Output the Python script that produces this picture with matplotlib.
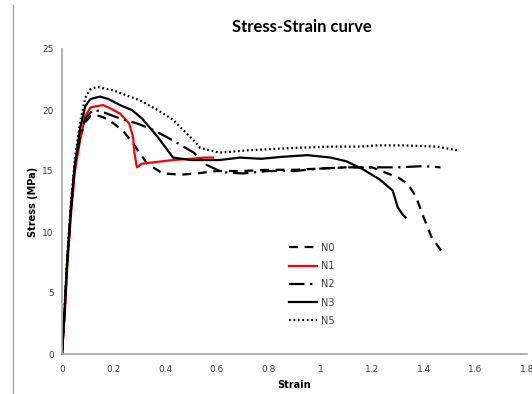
import numpy as np
import matplotlib
matplotlib.use("Agg")
import matplotlib.pyplot as plt
from matplotlib.lines import Line2D

# ----- datos -----
n0_strain = [0, 0.01, 0.02, 0.035, 0.05, 0.07, 0.09, 0.11, 0.13, 0.16, 0.2, 0.24, 0.28, 0.33,
             0.39, 0.46, 0.52, 0.6, 0.7, 0.8, 0.9, 1.0, 1.1, 1.2, 1.26, 1.3, 1.34, 1.37, 1.40,
             1.43, 1.47]
n0_stress = [0, 3.5, 7.5, 12, 15.5, 17.8, 19.0, 19.5, 19.6, 19.4, 18.9, 18.2, 17.1, 15.6,
             14.8, 14.7, 14.8, 15.0, 15.0, 15.1, 15.1, 15.2, 15.3, 15.3, 14.8, 14.5, 13.9,
             12.9, 11.2, 9.6, 8.4]

n1_strain = [0, 0.01, 0.02, 0.035, 0.05, 0.07, 0.09, 0.11, 0.13, 0.16, 0.19, 0.225, 0.26,
             0.275, 0.28, 0.29, 0.31, 0.35, 0.43, 0.5, 0.55, 0.585]
n1_stress = [0, 3, 7, 11.5, 15, 17.5, 19.5, 20.2, 20.3, 20.4, 20.1, 19.7, 18.9, 17.8, 16.5,
             15.3, 15.6, 15.7, 15.9, 16.0, 16.1, 16.1]

n2_strain = [0, 0.01, 0.02, 0.035, 0.05, 0.07, 0.09, 0.12, 0.15, 0.2, 0.24, 0.29, 0.35, 0.43,
             0.51, 0.56, 0.62, 0.7, 0.8, 0.9, 1.0, 1.1, 1.2, 1.3, 1.4, 1.465]
n2_stress = [0, 3.5, 7.5, 12, 15.5, 17.8, 19.3, 20.0, 19.9, 19.5, 19.2, 18.9, 18.4, 17.5,
             16.5, 15.5, 14.9, 14.8, 15.0, 15.0, 15.2, 15.3, 15.3, 15.3, 15.4, 15.3]

n3_strain = [0, 0.01, 0.02, 0.035, 0.05, 0.07, 0.09, 0.11, 0.147, 0.18, 0.225, 0.27, 0.31,
             0.37, 0.43, 0.50, 0.61, 0.69, 0.77, 0.845, 0.95, 1.04, 1.1, 1.16, 1.23, 1.28,
             1.30, 1.32, 1.33]
n3_stress = [0, 3.5, 7.5, 12, 15.5, 18.5, 20.3, 20.9, 21.1, 20.9, 20.4, 20.0, 19.3, 17.8,
             16.1, 15.9, 15.9, 16.1, 16.0, 16.15, 16.3, 16.1, 15.8, 15.2, 14.3, 13.4, 12.0,
             11.4, 11.2]

n5_strain = [0, 0.01, 0.02, 0.035, 0.05, 0.07, 0.09, 0.11, 0.135, 0.2, 0.3, 0.37, 0.43, 0.51,
             0.535, 0.61, 0.72, 0.81, 0.91, 1.04, 1.155, 1.22, 1.32, 1.45, 1.53]
n5_stress = [0, 3.8, 8, 12.5, 16, 19, 21.0, 21.7, 21.9, 21.6, 20.8, 20.0, 19.2, 17.5, 16.9,
             16.5, 16.7, 16.8, 16.9, 17.0, 17.0, 17.1, 17.1, 17.0, 16.7]

x_ticks = [0, 0.2, 0.4, 0.6, 0.8, 1, 1.2, 1.4, 1.6, 1.8]
x_labels = ["0", "0.2", "0.4", "0.6", "0.8", "1", "1.2", "1.4", "1.6", "1.8"]
y_ticks = [0, 5, 10, 15, 20, 25]

# ----- figura -----
W, H = 532, 394
fig = plt.figure(figsize=(W / 100, H / 100), dpi=100)
ax = fig.add_axes([62 / W, (H - 354) / H, (527 - 62) / W, (354 - 49) / H])

lw = 1.6
ax.plot(n0_strain, n0_stress, color="black", lw=lw, dashes=(4, 3), label="N0")
ax.plot(n1_strain, n1_stress, color="#ff0000", lw=lw, label="N1")
ax.plot(n2_strain, n2_stress, color="black", lw=lw, dashes=(7, 2.5, 1, 2.5), label="N2")
ax.plot(n3_strain, n3_stress, color="black", lw=lw, label="N3")
ax.plot(n5_strain, n5_stress, color="black", lw=lw, dashes=(0.8, 1.2), label="N5")

ax.set_xlim(0, 1.8)
ax.set_ylim(0, 25)
ax.set_xticks(x_ticks)
ax.set_xticklabels(x_labels)
ax.set_yticks(y_ticks)
ax.tick_params(length=0, labelsize=6.5, colors="#404040")
ax.tick_params(axis="x", pad=8)
ax.tick_params(axis="y", pad=6)
for s in ["top", "right"]:
    ax.spines[s].set_visible(False)
for s in ["left", "bottom"]:
    ax.spines[s].set_color("#a6a6a6")
    ax.spines[s].set_linewidth(1.2)

ax.set_xlabel("Strain", fontsize=7, fontweight="bold", labelpad=4)
ax.set_ylabel("Stress (MPa)", fontsize=7, fontweight="bold", labelpad=3)
fig.text(302 / W, 1 - 27 / H, "Stress-Strain curve", family="Lato", fontsize=12,
         fontweight="bold", ha="center", va="center")

leg = ax.legend(loc="upper left", bbox_to_anchor=(280 / W, 1 - 234 / H),
                bbox_transform=fig.transFigure, frameon=False, fontsize=7,
                labelspacing=0.85, handlelength=2.9, handletextpad=0.4)
for t in leg.get_texts():
    t.set_color("#404040")

# linea gris del borde izquierdo
fig.add_artist(Line2D([13 / W, 13 / W], [0, 1 - 5 / H], color="#a6a6a6", lw=1))

fig.savefig("out.png", dpi=100)
